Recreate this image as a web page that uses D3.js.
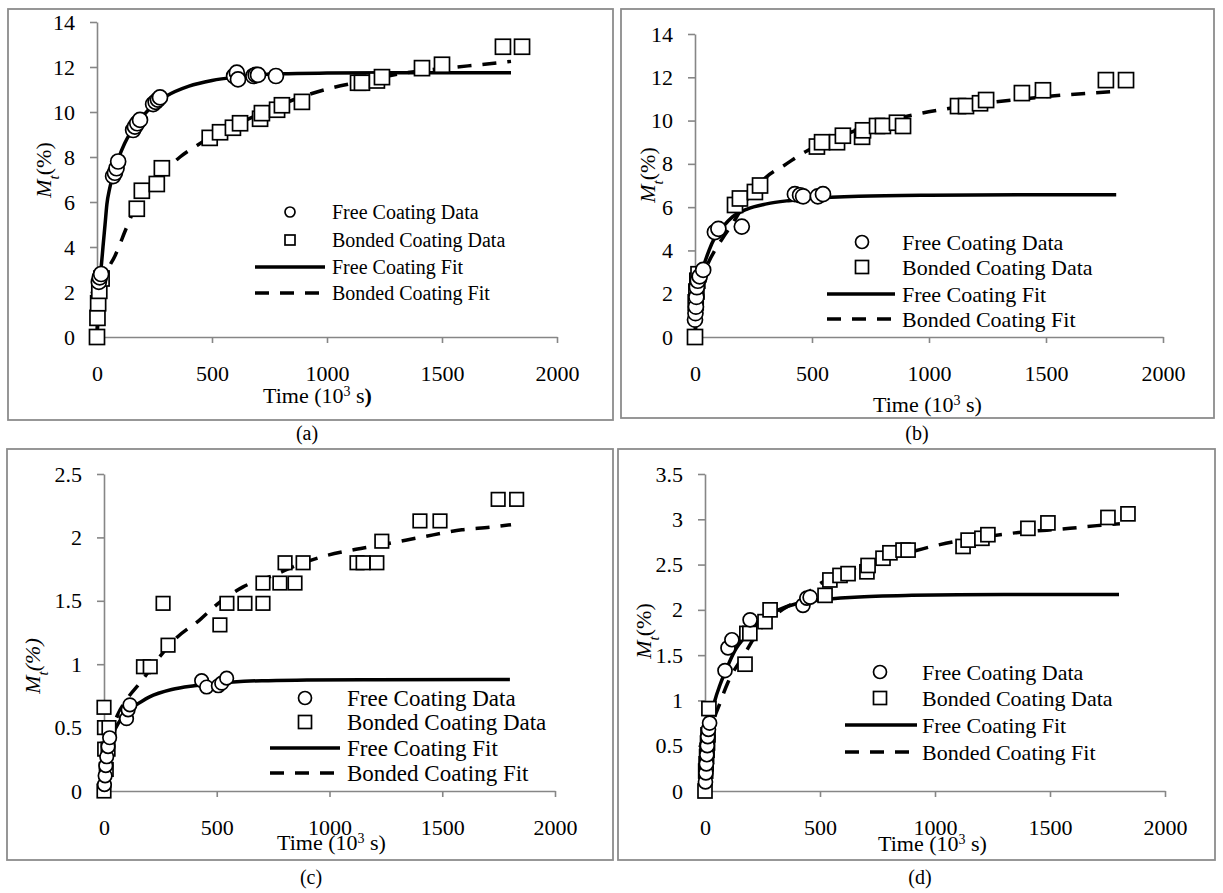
<!DOCTYPE html>
<html><head><meta charset="utf-8">
<script src="https://cdn.jsdelivr.net/npm/d3@7"></script>
<style>
body{margin:0;background:#fff}
svg{display:block}
text{font-family:"Liberation Serif","Times New Roman",serif;fill:#000}
</style>
</head><body>
<svg id="chart" width="1223" height="893"></svg>
<script>
// ---------- tick labels / categories ----------
const timeTicks = [0, 500, 1000, 1500, 2000];
const yTicksA = [0, 2, 4, 6, 8, 10, 12, 14];
const yTicksB = [0, 2, 4, 6, 8, 10, 12, 14];
const yTicksC = [0, 0.5, 1, 1.5, 2, 2.5];
const yTicksD = [0, 0.5, 1, 1.5, 2, 2.5, 3, 3.5];
const legendLabels = ["Free Coating Data", "Bonded Coating Data", "Free Coating Fit", "Bonded Coating Fit"];
const captions = ["(a)", "(b)", "(c)", "(d)"];

// ---------- panel (a) ----------
const freeA_t = [8, 12, 18, 70, 78, 85, 92, 157, 165, 175, 187, 244, 255, 265, 274, 596, 608, 613, 680, 690, 700, 778];
const freeA_M = [2.45, 2.65, 2.8, 7.15, 7.3, 7.5, 7.8, 9.2, 9.35, 9.5, 9.65, 10.35, 10.45, 10.55, 10.65, 11.6, 11.75, 11.45, 11.6, 11.65, 11.65, 11.6];
const bondA_t = [0, 2, 5, 10, 20, 173, 195, 260, 282, 490, 535, 591, 622, 709, 717, 783, 804, 891, 1135, 1152, 1217, 1239, 1413, 1500, 1765, 1848];
const bondA_M = [0, 0.85, 1.5, 2.05, 2.6, 5.7, 6.5, 6.8, 7.5, 8.85, 9.1, 9.3, 9.5, 9.7, 9.95, 10.1, 10.3, 10.45, 11.3, 11.3, 11.4, 11.55, 11.95, 12.1, 12.9, 12.9];
const fitFreeA_t = [0, 3, 8, 13, 20, 26, 35, 43, 55, 70, 92, 120, 150, 190, 250, 300, 400, 500, 600, 800, 1000, 1400, 1800];
const fitFreeA_M = [0, 1.2, 2.0, 2.6, 3.3, 4.0, 5.0, 5.9, 6.6, 7.2, 7.9, 8.6, 9.15, 9.7, 10.35, 10.7, 11.15, 11.4, 11.55, 11.7, 11.73, 11.75, 11.75];
const fitBondA_t = [0, 10, 20, 43, 78, 130, 173, 230, 300, 361, 448, 550, 650, 750, 870, 1013, 1150, 1317, 1450, 1613, 1739, 1800];
const fitBondA_M = [0, 1.5, 2.2, 2.9, 3.6, 4.9, 5.9, 6.75, 7.45, 8.0, 8.6, 9.2, 9.65, 10.1, 10.6, 11.05, 11.35, 11.7, 11.88, 12.05, 12.18, 12.25];

// ---------- panel (b) ----------
const freeB_t = [0, 2, 4, 6, 8, 12, 20, 35, 85, 100, 200, 427, 449, 462, 525, 547];
const freeB_M = [0.8, 1.1, 1.4, 1.85, 2.3, 2.6, 2.8, 3.1, 4.85, 5.0, 5.1, 6.6, 6.55, 6.5, 6.5, 6.6];
const bondB_t = [0, 3, 6, 10, 15, 171, 192, 256, 278, 521, 543, 607, 632, 714, 718, 778, 803, 863, 889, 1124, 1158, 1218, 1244, 1397, 1487, 1756, 1842];
const bondB_M = [0, 1.6, 2.1, 2.6, 2.9, 6.1, 6.4, 6.7, 7.0, 8.8, 9.0, 9.0, 9.3, 9.25, 9.55, 9.75, 9.75, 9.9, 9.75, 10.67, 10.67, 10.8, 10.95, 11.27, 11.4, 11.87, 11.87];
const fitFreeB_t = [0, 5, 15, 35, 60, 85, 120, 160, 220, 306, 400, 500, 700, 1000, 1400, 1800];
const fitFreeB_M = [0, 1.2, 2.2, 3.2, 4.0, 4.6, 5.1, 5.55, 5.9, 6.15, 6.3, 6.4, 6.5, 6.55, 6.57, 6.57];
const fitBondB_t = [0, 10, 30, 60, 85, 120, 158, 220, 306, 384, 470, 560, 650, 750, 927, 1050, 1200, 1400, 1600, 1800];
const fitBondB_M = [0, 1.5, 2.6, 3.5, 4.0, 4.6, 5.2, 6.3, 7.4, 7.95, 8.55, 9.0, 9.4, 9.75, 10.25, 10.5, 10.75, 11.0, 11.2, 11.35];

// ---------- panel (c) ----------
const freeC_t = [2, 5, 8, 12, 18, 25, 95, 100, 107, 115, 433, 455, 507, 522, 544];
const freeC_M = [0.05, 0.12, 0.2, 0.27, 0.35, 0.42, 0.6, 0.57, 0.64, 0.68, 0.87, 0.82, 0.83, 0.85, 0.89];
const bondC_t = [0, 10, 3, 18, 2, 22, 0, 175, 205, 262, 284, 514, 545, 625, 705, 705, 780, 803, 847, 883, 1122, 1149, 1210, 1232, 1401, 1490, 1748, 1830];
const bondC_M = [0, 0.17, 0.33, 0.33, 0.5, 0.5, 0.66, 0.98, 0.98, 1.48, 1.15, 1.31, 1.48, 1.48, 1.48, 1.64, 1.64, 1.8, 1.64, 1.8, 1.8, 1.8, 1.8, 1.97, 2.13, 2.13, 2.3, 2.3];
const fitFreeC_t = [0, 5, 15, 30, 50, 80, 115, 152, 200, 300, 400, 500, 573, 700, 900, 1200, 1800];
const fitFreeC_M = [0, 0.15, 0.28, 0.4, 0.49, 0.58, 0.65, 0.69, 0.74, 0.8, 0.83, 0.85, 0.86, 0.87, 0.875, 0.878, 0.88];
const fitBondC_t = [0, 10, 30, 60, 100, 168, 234, 323, 425, 500, 617, 750, 870, 972, 1099, 1195, 1343, 1460, 1587, 1712, 1805];
const fitBondC_M = [0, 0.28, 0.45, 0.6, 0.72, 0.87, 1.03, 1.21, 1.35, 1.47, 1.61, 1.7, 1.79, 1.85, 1.9, 1.93, 1.98, 2.02, 2.06, 2.08, 2.1];

// ---------- panel (d) ----------
const freeD_t = [2, 4, 6, 8, 10, 12, 15, 20, 87, 100, 117, 196, 426, 443, 457];
const freeD_M = [0.1, 0.2, 0.3, 0.4, 0.5, 0.6, 0.68, 0.75, 1.33, 1.58, 1.67, 1.89, 2.05, 2.13, 2.14];
const bondD_t = [0, 3, 5, 7, 9, 11, 13, 17, 174, 182, 195, 261, 283, 522, 543, 587, 622, 704, 709, 774, 804, 861, 883, 1122, 1144, 1204, 1230, 1404, 1491, 1752, 1839];
const bondD_M = [0, 0.22, 0.3, 0.38, 0.45, 0.53, 0.62, 0.91, 1.4, 1.74, 1.74, 1.87, 2.0, 2.16, 2.33, 2.38, 2.4, 2.42, 2.49, 2.57, 2.63, 2.66, 2.66, 2.7, 2.77, 2.79, 2.83, 2.9, 2.96, 3.02, 3.06];
const fitFreeD_t = [0, 10, 25, 43, 65, 87, 130, 180, 250, 320, 400, 500, 650, 900, 1300, 1800];
const fitFreeD_M = [0, 0.5, 0.8, 1.0, 1.17, 1.31, 1.55, 1.72, 1.9, 2.0, 2.07, 2.11, 2.14, 2.16, 2.17, 2.17];
const fitBondD_t = [0, 10, 30, 65, 100, 174, 226, 313, 400, 500, 661, 800, 987, 1078, 1200, 1348, 1587, 1704, 1804];
const fitBondD_M = [0, 0.4, 0.7, 0.97, 1.2, 1.52, 1.74, 1.96, 2.1, 2.29, 2.47, 2.57, 2.7, 2.75, 2.8, 2.85, 2.9, 2.93, 2.95];

const zip = (a, b) => a.map((v, i) => [v, b[i]]);

// ---------- layout (positions/styles only) ----------
const panels = [
  {yTicks: yTicksA, yMax: 14, free: zip(freeA_t, freeA_M), bond: zip(bondA_t, bondA_M),
   fitFree: zip(fitFreeA_t, fitFreeA_M), fitBond: zip(fitBondA_t, fitBondA_M),
   x0: 97, x1: 557, yTop: 22, yBot: 337, border: [8, 9, 605, 411],
   yTitle: [43, 170], xTitle: [263, 403], boldParen: true, italicPct: false,
   leg: {mx: 290, tx: 332, l0: 255, l1: 325, rows: [212, 240, 267, 293], fs: 20, ms: 10},
   ms: 15, cap: [307, 433]},
  {yTicks: yTicksB, yMax: 14, free: zip(freeB_t, freeB_M), bond: zip(bondB_t, bondB_M),
   fitFree: zip(fitFreeB_t, fitFreeB_M), fitBond: zip(fitBondB_t, fitBondB_M),
   x0: 695, x1: 1163, yTop: 34, yBot: 337, border: [621, 9, 593, 409],
   yTitle: [647, 175], xTitle: [873, 412], boldParen: false, italicPct: false,
   leg: {mx: 862, tx: 902, l0: 827, l1: 895, rows: [242, 267, 294, 319], fs: 22, ms: 13},
   ms: 15, cap: [917, 433]},
  {yTicks: yTicksC, yMax: 2.5, free: zip(freeC_t, freeC_M), bond: zip(bondC_t, bondC_M),
   fitFree: zip(fitFreeC_t, fitFreeC_M), fitBond: zip(fitBondC_t, fitBondC_M),
   x0: 104, x1: 555, yTop: 474, yBot: 791, border: [7, 449, 606, 411],
   yTitle: [32, 666], xTitle: [277, 850], boldParen: false, italicPct: true,
   leg: {mx: 305, tx: 347, l0: 270, l1: 340, rows: [698, 722, 748, 773], fs: 23, ms: 13},
   ms: 13.5, cap: [311, 877]},
  {yTicks: yTicksD, yMax: 3.5, free: zip(freeD_t, freeD_M), bond: zip(bondD_t, bondD_M),
   fitFree: zip(fitFreeD_t, fitFreeD_M), fitBond: zip(fitBondD_t, fitBondD_M),
   x0: 705, x1: 1165, yTop: 474, yBot: 791, border: [618, 449, 597, 411],
   yTitle: [643, 631], xTitle: [878, 851], boldParen: false, italicPct: false,
   leg: {mx: 880, tx: 922, l0: 845, l1: 917, rows: [672, 698, 725, 752], fs: 22, ms: 13},
   ms: 14, cap: [920, 877]}
];

const svg = d3.select("#chart");
const AX = "#868686";
const fmt = d3.format("~g");
const DASH = "14,11";

panels.forEach((p, i) => {
  const g = svg.append("g");
  g.append("rect").attr("x", p.border[0]).attr("y", p.border[1])
    .attr("width", p.border[2]).attr("height", p.border[3])
    .attr("fill", "none").attr("stroke", "#8c8c8c").attr("stroke-width", 1.8);

  const x = d3.scaleLinear().domain([0, 2000]).range([p.x0, p.x1]);
  const y = d3.scaleLinear().domain([0, p.yMax]).range([p.yBot, p.yTop]);

  const xa = g.append("g").attr("transform", `translate(0,${p.yBot})`)
    .call(d3.axisBottom(x).tickValues(timeTicks).tickSize(6).tickSizeOuter(0).tickPadding(22).tickFormat(fmt));
  const ya = g.append("g").attr("transform", `translate(${p.x0},0)`)
    .call(d3.axisLeft(y).tickValues(p.yTicks).tickSize(7).tickSizeOuter(0).tickPadding(15).tickFormat(fmt));
  [xa, ya].forEach(a => {
    a.select(".domain").attr("stroke", AX).attr("stroke-width", 1.6);
    a.selectAll(".tick line").attr("stroke", AX).attr("stroke-width", 1.6);
    a.selectAll(".tick text").attr("font-size", 22).attr("font-family", "Liberation Serif").attr("fill", "#000");
  });

  const line = d3.line().x(d => x(d[0])).y(d => y(d[1])).curve(d3.curveMonotoneX);
  g.append("path").datum(p.fitFree).attr("d", line).attr("fill", "none")
    .attr("stroke", "#000").attr("stroke-width", 3.5);
  g.append("path").datum(p.fitBond).attr("d", line).attr("fill", "none")
    .attr("stroke", "#000").attr("stroke-width", 3.5).attr("stroke-dasharray", DASH);

  const s = p.ms;
  g.append("g").selectAll("rect").data(p.bond).join("rect")
    .attr("x", d => x(d[0]) - s / 2).attr("y", d => y(d[1]) - s / 2)
    .attr("width", s).attr("height", s)
    .attr("fill", "#fff").attr("stroke", "#000").attr("stroke-width", 1.7);
  g.append("g").selectAll("circle").data(p.free).join("circle")
    .attr("cx", d => x(d[0])).attr("cy", d => y(d[1])).attr("r", s / 2)
    .attr("fill", "#fff").attr("stroke", "#000").attr("stroke-width", 1.7);

  // legend
  const L = p.leg;
  g.append("circle").attr("cx", L.mx).attr("cy", L.rows[0]).attr("r", L.ms / 2)
    .attr("fill", "#fff").attr("stroke", "#000").attr("stroke-width", 1.7);
  g.append("rect").attr("x", L.mx - L.ms / 2).attr("y", L.rows[1] - L.ms / 2)
    .attr("width", L.ms).attr("height", L.ms)
    .attr("fill", "#fff").attr("stroke", "#000").attr("stroke-width", 1.7);
  g.append("line").attr("x1", L.l0).attr("x2", L.l1).attr("y1", L.rows[2]).attr("y2", L.rows[2])
    .attr("stroke", "#000").attr("stroke-width", 3.5);
  g.append("line").attr("x1", L.l0).attr("x2", L.l1).attr("y1", L.rows[3]).attr("y2", L.rows[3])
    .attr("stroke", "#000").attr("stroke-width", 3.5).attr("stroke-dasharray", DASH);
  legendLabels.forEach((lab, k) => {
    g.append("text").attr("x", L.tx).attr("y", L.rows[k]).attr("dy", "0.35em")
      .attr("font-size", L.fs).text(lab);
  });

  // x title
  const xt = g.append("text").attr("x", p.xTitle[0]).attr("y", p.xTitle[1]).attr("font-size", 22);
  xt.append("tspan").text("Time (10");
  xt.append("tspan").attr("baseline-shift", "super").attr("font-size", 14).text("3");
  xt.append("tspan").text(" s");
  xt.append("tspan").attr("font-weight", p.boldParen ? "bold" : "normal").text(")");

  // y title
  const yt = g.append("text")
    .attr("transform", `translate(${p.yTitle[0]},${p.yTitle[1]}) rotate(-90)`)
    .attr("text-anchor", "middle").attr("dy", "0.35em").attr("font-size", 22);
  yt.append("tspan").attr("font-style", "italic").text("M");
  yt.append("tspan").attr("font-style", "italic").attr("baseline-shift", "sub").attr("font-size", 15).text("t");
  yt.append("tspan").attr("font-style", p.italicPct ? "italic" : "normal").text("(%)");

  // caption
  g.append("text").attr("x", p.cap[0]).attr("y", p.cap[1]).attr("dy", "0.35em")
    .attr("text-anchor", "middle").attr("font-size", 20).text(captions[i]);
});
</script>
</body></html>
